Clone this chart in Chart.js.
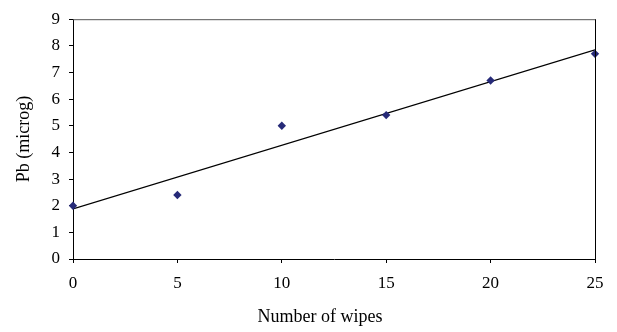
<!DOCTYPE html>
<html>
<head>
<meta charset="utf-8">
<script src="https://cdn.jsdelivr.net/npm/chart.js@4.4.0/dist/chart.umd.min.js"></script>
<style>
  html, body { margin: 0; padding: 0; background: #fff; }
  #wrap { width: 617px; height: 332px; }
</style>
</head>
<body>
<div id="wrap"><canvas id="myChart" width="617" height="332"></canvas></div>
<script>
// data
const wipes = [0, 5, 10, 15, 20, 25];
const lead = [2.0, 2.4, 5.0, 5.4, 6.7, 7.7];
const xTicks = [0, 5, 10, 15, 20, 25];
const yTicks = [0, 1, 2, 3, 4, 5, 6, 7, 8, 9];
const xTitle = 'Number of wipes';
const yTitle = 'Pb (microg)';

// linear trendline (least squares)
const n = wipes.length;
const mx = wipes.reduce((a, b) => a + b, 0) / n;
const my = lead.reduce((a, b) => a + b, 0) / n;
let sxy = 0, sxx = 0;
for (let i = 0; i < n; i++) {
  sxy += (wipes[i] - mx) * (lead[i] - my);
  sxx += (wipes[i] - mx) * (wipes[i] - mx);
}
const slope = sxy / sxx;
const icept = my - slope * mx;
const xMin = wipes[0], xMax = wipes[n - 1];
const trend = [
  { x: xMin, y: icept + slope * xMin },
  { x: xMax, y: icept + slope * xMax }
];

const family = '"Liberation Serif", "Times New Roman", serif';
const tickFont = { family: family, size: 17 };
const titleFont = { family: family, size: 18 };

// frame round the plot area (top edge grey) + x title sitting a bit left of centre
const frame = {
  id: 'frame',
  afterDraw(chart) {
    const { ctx, chartArea: a } = chart;
    ctx.save();
    ctx.lineWidth = 1;
    ctx.strokeStyle = '#555';
    ctx.beginPath();
    ctx.moveTo(a.left, a.top + 0.5);
    ctx.lineTo(a.right, a.top + 0.5);
    ctx.stroke();
    ctx.strokeStyle = '#000';
    ctx.beginPath();
    ctx.moveTo(a.right + 0.5, a.top);
    ctx.lineTo(a.right + 0.5, a.bottom);
    ctx.stroke();

    ctx.fillStyle = '#000';
    ctx.font = titleFont.size + 'px ' + family;
    ctx.textAlign = 'center';
    ctx.textBaseline = 'middle';
    ctx.fillText(xTitle, a.left + (a.right - a.left) * 0.473, 317);
    ctx.restore();
  }
};

const ctx = document.getElementById('myChart').getContext('2d');
const myChart = new Chart(ctx, {
  type: 'scatter',
  data: {
    datasets: [{
      label: 'Pb',
      data: wipes.map((x, i) => ({ x: x, y: lead[i] })),
      pointStyle: 'rectRot',
      pointRadius: 4.2,
      pointBorderWidth: 0,
      backgroundColor: '#262a78',
      borderColor: '#262a78',
      clip: false,
      order: 1
    }, {
      label: 'Trend',
      type: 'line',
      data: trend,
      borderColor: '#000',
      borderWidth: 1.3,
      pointRadius: 0,
      fill: false,
      order: 2
    }]
  },
  options: {
    responsive: false,
    animation: false,
    layout: { padding: { top: 11, right: 22, left: 0, bottom: 0 } },
    plugins: {
      legend: { display: false },
      tooltip: { enabled: false }
    },
    scales: {
      x: {
        type: 'linear',
        min: 0,
        max: 25,
        afterBuildTicks: s => { s.ticks = xTicks.map(v => ({ value: v })); },
        afterFit: s => { s.height = 73; },
        grid: { drawOnChartArea: false, drawTicks: true, tickLength: 4, color: '#000' },
        border: { color: '#000', width: 1 },
        ticks: { font: tickFont, color: '#000', padding: 10, maxRotation: 0 },
        title: { display: false }
      },
      y: {
        min: 0,
        max: 9,
        afterBuildTicks: s => { s.ticks = yTicks.map(v => ({ value: v })); },
        afterFit: s => { s.width = 73; },
        grid: { drawOnChartArea: false, drawTicks: true, tickLength: 4, color: '#000' },
        border: { color: '#000', width: 1 },
        ticks: { font: tickFont, color: '#000', padding: 9 },
        title: { display: true, text: yTitle, font: titleFont, color: '#000', padding: { top: 13, bottom: 0 } }
      }
    }
  },
  plugins: [frame]
});
</script>
</body>
</html>
